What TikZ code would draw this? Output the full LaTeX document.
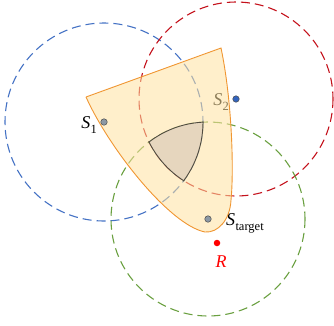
\documentclass[tikz,border=0pt]{standalone}
\usepackage{fontspec}
\setmainfont{Liberation Serif}
\definecolor{cblue}{RGB}{68,114,196}
\definecolor{cred}{RGB}{196,18,28}
\definecolor{cgreen}{RGB}{106,160,64}
\definecolor{fanfill}{RGB}{255,226,160}
\definecolor{fanedge}{RGB}{240,150,50}
\definecolor{capfill}{RGB}{230,214,190}
\definecolor{capedge}{RGB}{80,76,64}
\definecolor{dotgray}{RGB}{140,152,164}
\definecolor{dotblue}{RGB}{50,100,190}
\newcommand{\lbl}[2]{\textit{#1}\kern0.3pt\raisebox{-0.28em}{\fontsize{12.5}{12.5}\selectfont #2}}
\begin{document}
\begin{tikzpicture}[x=1pt,y=-1pt,
  circ/.style={dashed,dash pattern=on 9pt off 5pt,line width=1.1pt},
  lab/.style={font=\fontsize{18}{18}\selectfont,inner sep=0pt},
  sdot/.style={circle,draw=black!70,line width=0.5pt,minimum size=6.5pt,inner sep=0pt}]
\useasboundingbox (0,0) rectangle (334,325);
\coordinate (s1) at (104,122);
\coordinate (s2) at (236,99);
\coordinate (st) at (208,219);
\coordinate (r) at (217,243);
% circles
\draw[circ,cblue] (s1) circle[radius=99];
\draw[circ,cred] (s2) circle[radius=97];
\draw[circ,cgreen] (st) circle[radius=97];
% labels
\node[lab,anchor=base east] (l1) at (97,128) {\lbl{S}{1}};
\node[lab,anchor=base east] (l2) at (229,105) {\lbl{S}{2}};
\node[lab,anchor=base west] (lt) at (226,225) {\lbl{S}{target}};
\node[lab,anchor=base,text=red] (lr) at (221,267) {\textit{R}};
% fan region
\fill[fanfill,opacity=0.55] (86,97) -- (221,48) .. controls (232,100) and (234,170) .. (231,200)
  .. controls (230,220) and (218,233) .. (205,232) .. controls (170,225) and (110,150) .. (86,97) -- cycle;
\draw[fanedge,line width=0.9pt] (86,97) -- (221,48) .. controls (232,100) and (234,170) .. (231,200)
  .. controls (230,220) and (218,233) .. (205,232) .. controls (170,225) and (110,150) .. (86,97);
% intersection of three disks
\begin{scope}
  \clip (s1) circle[radius=99];
  \clip (s2) circle[radius=97];
  \fill[capfill] (st) circle[radius=97];
\end{scope}
\begin{scope}
  \clip (s1) circle[radius=99.6];
  \clip (s2) circle[radius=97.6];
  \draw[capedge,line width=0.9pt] (st) circle[radius=97];
\end{scope}
\begin{scope}
  \clip (s1) circle[radius=99.6];
  \clip (st) circle[radius=97.6];
  \draw[capedge,line width=0.9pt] (s2) circle[radius=97];
\end{scope}
\begin{scope}
  \clip (s2) circle[radius=97.6];
  \clip (st) circle[radius=97.6];
  \draw[capedge,line width=0.9pt] (s1) circle[radius=99];
\end{scope}
% dots
\node[sdot,fill=dotgray] (d1) at (s1) {};
\node[sdot,fill=dotblue] (d2) at (s2) {};
\node[sdot,fill=dotgray] (dt) at (st) {};
\node[circle,fill=red,minimum size=6.5pt,inner sep=0pt] (dr) at (r) {};
\end{tikzpicture}
\end{document}
